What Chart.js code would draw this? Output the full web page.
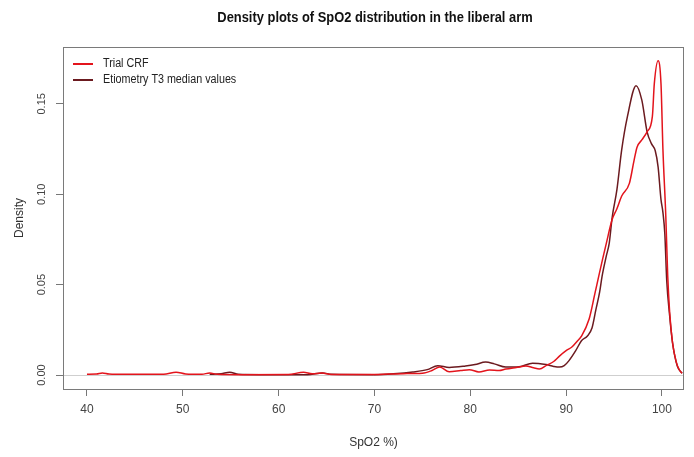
<!DOCTYPE html>
<html>
<head>
<meta charset="utf-8">
<script src="https://cdn.jsdelivr.net/npm/chart.js@4"></script>
<style>
  html, body { margin: 0; padding: 0; background: #ffffff; }
  #wrap { width: 694px; height: 457px; }
</style>
</head>
<body>
<div id="wrap"><canvas id="c" width="694" height="457"></canvas></div>
<script>
// SpO2 grid (%) and kernel density for each source
const crfSpO2 = [40, 41, 41.6, 42.3, 44, 48, 49.3, 50.3, 52, 52.8, 53.6, 56, 61, 62.6, 63.5, 64.5, 65.5, 70, 71.5, 73, 75, 76, 76.8, 77.8, 79, 79.9, 80.9, 82, 83, 83.7, 84.8, 85.8, 86.6, 87.2, 88, 88.7, 89.3, 90.0, 90.6, 91.2, 91.6, 92.4, 93.0, 93.4, 93.8, 94.2, 94.8, 95.3, 95.8, 96.6, 97.1, 97.4, 97.9, 98.45, 99.0, 99.2, 99.6, 99.9, 100.1, 100.4, 100.6, 100.8, 101.1, 101.5, 101.8, 102.1];
const crfDensity = [0.0005, 0.0006, 0.0012, 0.0006, 0.0004, 0.0005, 0.0016, 0.0006, 0.0004, 0.0012, 0.0004, 0.0002, 0.0003, 0.0016, 0.0007, 0.0011, 0.0003, 0.0003, 0.0006, 0.0008, 0.001, 0.0025, 0.0045, 0.0018, 0.0025, 0.003, 0.0017, 0.0028, 0.0025, 0.0033, 0.0042, 0.005, 0.004, 0.0033, 0.0055, 0.0075, 0.0105, 0.0135, 0.0155, 0.019, 0.0215, 0.031, 0.045, 0.0546, 0.064, 0.073, 0.086, 0.092, 0.099, 0.106, 0.119, 0.126, 0.130, 0.1345, 0.143, 0.161, 0.1738, 0.161, 0.125, 0.088, 0.055, 0.035, 0.018, 0.007, 0.003, 0.001];

const etiSpO2 = [52.8, 54, 54.9, 55.8, 58, 63, 64.6, 65.5, 70, 72, 74, 75.5, 76.6, 77.8, 79.5, 80.5, 81.6, 82.5, 83.7, 85.1, 86.5, 87.9, 88.7, 89.3, 89.8, 90.3, 91.0, 91.6, 92.2, 92.7, 93.1, 93.5, 93.75, 94.2, 94.5, 94.8, 95.3, 95.8, 96.4, 97.3, 97.9, 98.45, 98.9, 99.3, 99.6, 99.9, 100.1, 100.3, 100.5, 100.8, 101.1, 101.6, 102.1];
const etiDensity = [0.0004, 0.0008, 0.0016, 0.0004, 0.0002, 0.0002, 0.0012, 0.0004, 0.0002, 0.0007, 0.0017, 0.003, 0.0052, 0.0042, 0.005, 0.0058, 0.0072, 0.0062, 0.0044, 0.0046, 0.0066, 0.0058, 0.0048, 0.0044, 0.0052, 0.008, 0.0135, 0.019, 0.0215, 0.026, 0.036, 0.046, 0.0546, 0.066, 0.073, 0.087, 0.1025, 0.1246, 0.143, 0.160, 0.152, 0.1345, 0.128, 0.124, 0.115, 0.097, 0.09, 0.078, 0.052, 0.033, 0.018, 0.005, 0.001];

const xTickValues = [40, 50, 60, 70, 80, 90, 100];
const yTickValues = [0, 0.05, 0.10, 0.15];
const seriesNames = ['Trial CRF', 'Etiometry T3 median values'];
const chartTitle = 'Density plots of SpO2 distribution in the liberal arm';

const REGULAR = "'Liberation Sans', Arial, sans-serif";
const NARROW_FACTOR = 0.86; // horizontal squeeze for a narrow-face look

const toPoints = (xs, ys) => xs.map((x, i) => ({ x: x, y: ys[i] }));

// draw text squeezed horizontally around its anchor
function narrowText(ctx, text, x, y, align) {
  ctx.save();
  ctx.translate(x, y);
  ctx.scale(NARROW_FACTOR, 1);
  ctx.textAlign = align;
  ctx.fillText(text, 0, 0);
  ctx.restore();
}

// zero reference line, frame, heading
const frame = {
  id: 'frame',
  beforeDatasetsDraw(chart) {
    const { ctx, chartArea: a, scales } = chart;
    const y0 = Math.round(scales.y.getPixelForValue(0)) + 0.5;
    ctx.save();
    ctx.strokeStyle = '#cfcfcf';
    ctx.lineWidth = 1;
    ctx.beginPath();
    ctx.moveTo(a.left, y0);
    ctx.lineTo(a.right, y0);
    ctx.stroke();
    ctx.restore();
  },
  afterDatasetsDraw(chart) {
    const { ctx, chartArea: a } = chart;
    ctx.save();
    ctx.strokeStyle = '#7a7a7a';
    ctx.lineWidth = 1;
    ctx.strokeRect(a.left + 0.5, a.top + 0.5, a.right - a.left - 1, a.bottom - a.top);
    ctx.fillStyle = '#111';
    ctx.font = 'bold 15px ' + REGULAR;
    ctx.textBaseline = 'middle';
    narrowText(ctx, chartTitle, (a.left + a.right) / 2 + 1.5, 18, 'center');
    ctx.restore();
  }
};

// line-and-label key in the upper left of the plot
const key = {
  id: 'key',
  afterDraw(chart) {
    const { ctx } = chart;
    ctx.save();
    ctx.font = '12.5px ' + REGULAR;
    ctx.textBaseline = 'middle';
    chart.data.datasets.forEach((ds, i) => {
      const y = 64 + i * 16;
      ctx.strokeStyle = ds.borderColor;
      ctx.lineWidth = 2;
      ctx.beginPath();
      ctx.moveTo(73, y);
      ctx.lineTo(93, y);
      ctx.stroke();
      ctx.fillStyle = '#222';
      narrowText(ctx, ds.label, 103, y, 'left');
    });
    ctx.restore();
  }
};

new Chart(document.getElementById('c'), {
  type: 'line',
  data: {
    datasets: [
      {
        label: seriesNames[0],
        data: toPoints(crfSpO2, crfDensity),
        borderColor: '#e3141c',
        borderWidth: 1.5,
        pointRadius: 0,
        fill: false,
        cubicInterpolationMode: 'monotone'
      },
      {
        label: seriesNames[1],
        data: toPoints(etiSpO2, etiDensity),
        borderColor: '#6b1a1f',
        borderWidth: 1.5,
        pointRadius: 0,
        fill: false,
        cubicInterpolationMode: 'monotone'
      }
    ]
  },
  options: {
    responsive: false,
    animation: false,
    devicePixelRatio: 1,
    layout: { padding: { left: 0, right: 10, top: 47, bottom: 0 } },
    plugins: {
      legend: { display: false },
      tooltip: { enabled: false },
      title: { display: false }
    },
    scales: {
      x: {
        type: 'linear',
        min: 37.5,
        max: 102.3,
        afterBuildTicks: s => { s.ticks = xTickValues.map(v => ({ value: v })); },
        afterFit: s => { s.height = 68; },
        border: { display: false },
        grid: { display: true, drawOnChartArea: false, drawTicks: true, tickLength: 7, color: '#777' },
        ticks: { color: '#444', padding: 6, maxRotation: 0, font: { family: REGULAR, size: 12 } },
        title: {
          display: true,
          text: 'SpO2 %)',
          color: '#333',
          font: { family: REGULAR, size: 12 },
          padding: { top: 0, bottom: 6.8 }
        }
      },
      y: {
        type: 'linear',
        min: -0.0077,
        max: 0.1814,
        afterBuildTicks: s => { s.ticks = yTickValues.map(v => ({ value: v })); },
        afterFit: s => { s.width = 63; },
        border: { display: false },
        grid: { display: true, drawOnChartArea: false, drawTicks: true, tickLength: 7, color: '#777' },
        ticks: {
          color: '#444',
          padding: 3,
          minRotation: 90,
          maxRotation: 90,
          crossAlign: 'center',
          font: { family: REGULAR, size: 11 },
          callback: v => v.toFixed(2)
        },
        title: {
          display: true,
          text: 'Density',
          color: '#333',
          font: { family: REGULAR, size: 12 },
          padding: { top: 12, bottom: 0 }
        }
      }
    }
  },
  plugins: [frame, key]
});
</script>
</body>
</html>
